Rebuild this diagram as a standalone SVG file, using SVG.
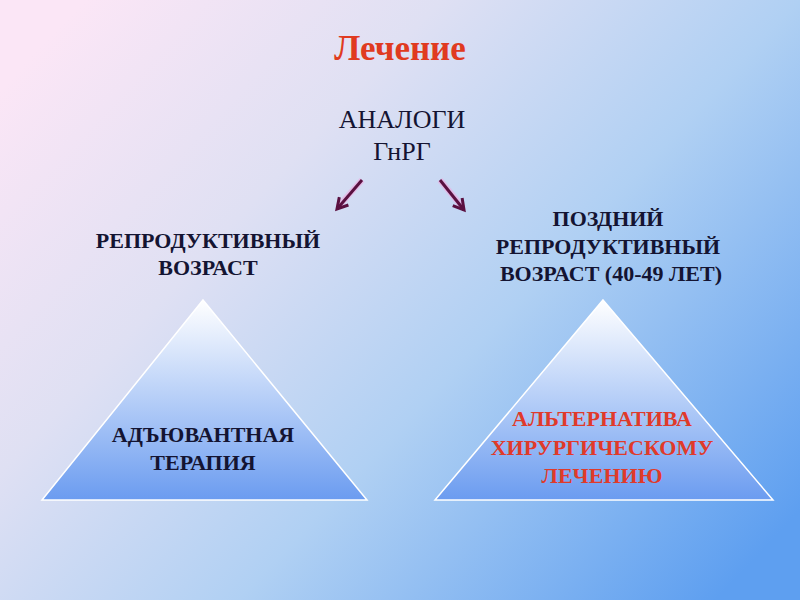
<svg xmlns="http://www.w3.org/2000/svg" width="800" height="600" viewBox="0 0 800 600">
<defs>
<linearGradient id="bg" x1="0" y1="0.15" x2="1" y2="0.85">
<stop offset="0" stop-color="#fbe6f6"/>
<stop offset="0.3" stop-color="#dfe0f3"/>
<stop offset="0.6" stop-color="#b0d0f3"/>
<stop offset="1" stop-color="#5e9ff0"/>
</linearGradient>
<linearGradient id="tri" x1="0" y1="0" x2="0" y2="1">
<stop offset="0" stop-color="#ffffff"/>
<stop offset="1" stop-color="#6b9cf0"/>
</linearGradient>
<marker id="ah" viewBox="0 0 10 10" refX="8" refY="5" markerWidth="5" markerHeight="5" orient="auto">
<path d="M1,1 L8,5 L1,9" fill="none" stroke="#5a1040" stroke-width="2"/>
</marker>
<style>
.t{font-family:"Liberation Serif","Times New Roman",serif;text-anchor:middle}
.b{font-weight:bold;font-size:22px;fill:#141432}
.r{font-weight:bold;font-size:22px;fill:#e03a2a}
.tr{fill:url(#tri);stroke:#ffffff;stroke-width:1.5}
.arr{stroke:#5a1040;stroke-width:3;fill:none;marker-end:url(#ah)}
.glow{stroke:#f0a8e0;stroke-width:6;fill:none;opacity:0.6}
</style>
</defs>
<rect width="800" height="600" fill="url(#bg)"/>
<g id="title"><text class="t" x="400" y="60" font-size="35" font-weight="bold" fill="#e03a20">Лечение</text></g>
<g id="analog"><text class="t" x="402" y="128" font-size="26" fill="#141432">АНАЛОГИ</text><text class="t" x="402" y="160" font-size="26" fill="#141432">ГнРГ</text></g>
<g id="connectors">
<line class="glow" x1="362" y1="180" x2="338" y2="207"/>
<line class="glow" x1="440" y1="180" x2="463" y2="208"/>
<line class="arr" x1="362" y1="180" x2="337" y2="209"/>
<line class="arr" x1="440" y1="180" x2="464" y2="210"/>
</g>
<g id="left-label"><text class="t b" x="208" y="248">РЕПРОДУКТИВНЫЙ</text><text class="t b" x="208" y="275">ВОЗРАСТ</text></g>
<g id="right-label"><text class="t b" x="608" y="226">ПОЗДНИЙ</text><text class="t b" x="608" y="254">РЕПРОДУКТИВНЫЙ</text><text class="t b" x="611" y="281">ВОЗРАСТ (40-49 ЛЕТ)</text></g>
<g id="left-triangle">
<polygon class="tr" points="203,300 367,500 42,500"/>
<text class="t b" x="203" y="442">АДЪЮВАНТНАЯ</text><text class="t b" x="203" y="470">ТЕРАПИЯ</text>
</g>
<g id="right-triangle">
<polygon class="tr" points="603,300 773,500 435,500"/>
<text class="t r" x="602" y="426">АЛЬТЕРНАТИВА</text><text class="t r" x="602" y="455">ХИРУРГИЧЕСКОМУ</text><text class="t r" x="602" y="483">ЛЕЧЕНИЮ</text>
</g>
</svg>
